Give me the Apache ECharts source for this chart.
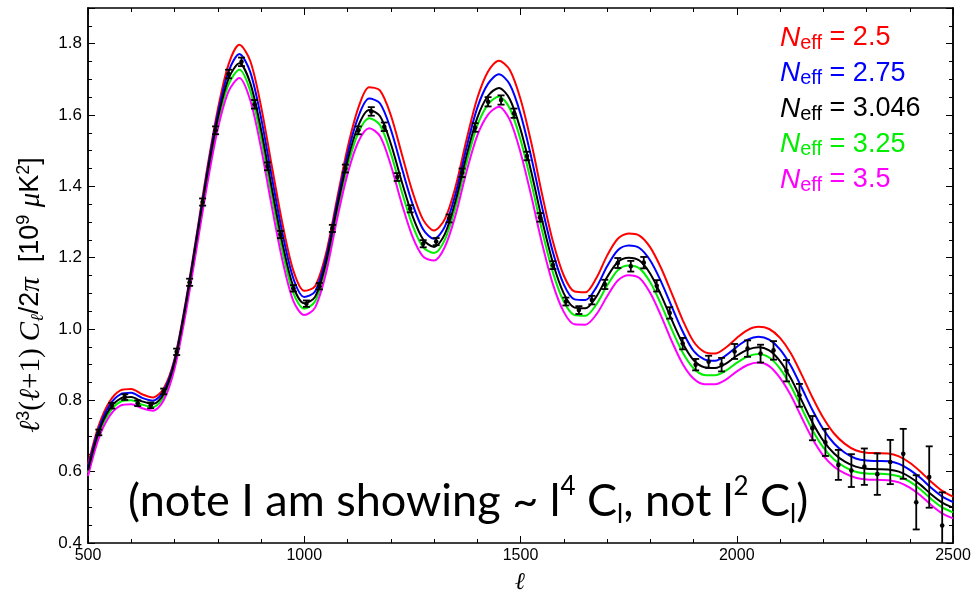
<!DOCTYPE html>
<html>
<head>
<meta charset="utf-8">
<script src="https://cdn.jsdelivr.net/npm/echarts@6/dist/echarts.min.js"></script>
<style>
  html, body { margin: 0; padding: 0; background: #fff; }
  #chart { width: 975px; height: 601px; }
</style>
</head>
<body>
<div id="chart"></div>
<script>
// multipole grid for the model curves
var curveL = [500,525,550,575,600,625,650,675,700,725,
  750,775,800,825,850,875,900,925,950,975,
  1000,1025,1050,1075,1100,1125,1150,1175,1200,1225,
  1250,1275,1300,1325,1350,1375,1400,1425,1450,1475,
  1500,1525,1550,1575,1600,1625,1650,1675,1700,1725,
  1750,1775,1800,1825,1850,1875,1900,1925,1950,1975,
  2000,2025,2050,2075,2100,2125,2150,2175,2200,2225,
  2250,2275,2300,2325,2350,2375,2400,2425,2450,2475,
  2500];

// Neff = 2.5
var red = [.620,.730,.797,.828,.832,.817,.808,.833,.916,1.070,
  1.255,1.446,1.615,1.742,1.797,1.752,1.625,1.457,1.293,1.163,
  1.107,1.120,1.210,1.360,1.507,1.620,1.678,1.669,1.600,1.493,
  1.386,1.306,1.276,1.308,1.400,1.530,1.647,1.722,1.752,1.727,
  1.645,1.522,1.377,1.245,1.150,1.105,1.103,1.142,1.205,1.253,
  1.268,1.262,1.229,1.171,1.099,1.025,.965,.936,.931,.948,
  .975,.997,1.006,1.000,.975,.932,.872,.808,.751,.707,
  .678,.660,.653,.652,.651,.643,.625,.600,.571,.546,
  .530];
// Neff = 2.75
var blue = [.612,.721,.787,.817,.821,.807,.799,.826,.911,1.065,
  1.249,1.437,1.603,1.722,1.771,1.721,1.593,1.426,1.266,1.141,
  1.090,1.105,1.198,1.348,1.490,1.595,1.646,1.633,1.560,1.454,
  1.352,1.279,1.253,1.287,1.380,1.508,1.620,1.688,1.714,1.686,
  1.603,1.481,1.341,1.215,1.125,1.083,1.081,1.116,1.175,1.221,
  1.234,1.227,1.192,1.133,1.062,.993,.939,.915,.911,.926,
  .950,.970,.978,.970,.943,.897,.836,.773,.719,.679,
  .653,.637,.631,.630,.629,.622,.605,.582,.554,.530,
  .515];
// Neff = 3.046
var black = [.604,.712,.776,.805,.809,.797,.790,.818,.906,1.060,
  1.243,1.428,1.590,1.702,1.745,1.690,1.560,1.395,1.238,1.118,
  1.072,1.090,1.185,1.335,1.472,1.570,1.614,1.597,1.520,1.415,
  1.318,1.251,1.230,1.266,1.360,1.485,1.592,1.654,1.676,1.645,
  1.560,1.440,1.305,1.185,1.100,1.060,1.058,1.090,1.145,1.188,
  1.200,1.192,1.155,1.095,1.025,.960,.913,.893,.891,.903,
  .925,.942,.949,.940,.910,.862,.800,.738,.687,.651,
  .628,.614,.608,.607,.606,.600,.585,.563,.536,.513,
  .499];
// Neff = 3.25
var green = [.597,.704,.767,.796,.800,.788,.781,.810,.898,1.050,
  1.232,1.416,1.577,1.686,1.727,1.668,1.537,1.372,1.216,1.100,
  1.057,1.077,1.172,1.321,1.455,1.550,1.591,1.572,1.493,1.387,
  1.292,1.229,1.213,1.250,1.342,1.465,1.570,1.630,1.652,1.619,
  1.531,1.409,1.275,1.158,1.077,1.039,1.037,1.068,1.121,1.165,
  1.178,1.170,1.131,1.069,.998,.934,.890,.871,.870,.883,
  .905,.923,.930,.920,.889,.840,.778,.717,.668,.634,
  .613,.600,.595,.594,.593,.587,.572,.550,.523,.500,
  .486];
// Neff = 3.5
var magenta = [.588,.694,.756,.785,.789,.778,.771,.800,.888,1.038,
  1.218,1.401,1.560,1.666,1.704,1.642,1.508,1.343,1.190,1.078,
  1.039,1.060,1.155,1.303,1.434,1.525,1.563,1.541,1.460,1.353,
  1.260,1.203,1.192,1.230,1.320,1.440,1.542,1.601,1.623,1.587,
  1.495,1.372,1.239,1.125,1.048,1.013,1.012,1.040,1.091,1.136,
  1.151,1.143,1.101,1.037,.965,.902,.861,.845,.845,.858,
  .881,.899,.906,.896,.863,.814,.752,.692,.645,.614,
  .595,.583,.578,.577,.576,.570,.555,.533,.506,.483,
  .469];

// binned data points
var dataL = [525,555,585,615,645,675,705,735,765,795,
  825,855,885,915,945,975,1005,1035,1065,1095,
  1125,1155,1185,1215,1245,1275,1305,1335,1365,1395,
  1425,1455,1485,1515,1545,1575,1605,1635,1665,1695,
  1725,1755,1785,1815,1845,1875,1905,1935,1965,1995,
  2025,2055,2085,2115,2145,2175,2205,2235,2265,2295,
  2325,2355,2385,2415,2445,2475];
var dataV = [.710,.785,.809,.792,.786,.825,.936,1.131,1.356,1.557,
  1.715,1.749,1.630,1.456,1.265,1.114,1.071,1.120,1.282,1.450,
  1.557,1.610,1.567,1.426,1.337,1.239,1.245,1.310,1.438,1.565,
  1.637,1.642,1.605,1.485,1.313,1.179,1.077,1.053,1.081,1.125,
  1.185,1.176,1.186,1.121,1.045,.959,.900,.908,.900,.937,
  .945,.931,.940,.883,.814,.722,.682,.619,.603,.614,
  .593,.627,.650,.514,.585,.449];
var dataErr = [.008,.008,.008,.008,.008,.008,.009,.010,.010,.011,
  .012,.012,.012,.011,.010,.009,.009,.009,.010,.011,
  .011,.012,.012,.011,.010,.010,.010,.011,.012,.012,
  .013,.013,.013,.012,.012,.011,.011,.011,.012,.013,
  .014,.015,.016,.016,.016,.016,.016,.017,.019,.021,
  .023,.025,.026,.030,.032,.034,.038,.042,.046,.051,
  .058,.062,.070,.076,.086,.093];

var legendLabels = ['2.5', '2.75', '3.046', '3.25', '3.5'];
var colors = ['#ff0000', '#0000ff', '#000000', '#00ee00', '#ff00ff'];

function pairs(ys) {
  var out = [];
  for (var i = 0; i < curveL.length; i++) out.push([curveL[i], ys[i]]);
  return out;
}
var points = [];
for (var i = 0; i < dataL.length; i++) points.push([dataL[i], dataV[i], dataErr[i]]);

var chart = echarts.init(document.getElementById('chart'));

var frame = { show: true, lineStyle: { color: '#000', width: 1.5 } };
var fontSans = "'Liberation Sans', Arial, Helvetica, sans-serif";
var fontSerif = "'Liberation Serif', 'DejaVu Serif', serif";

function xAx(pos, labels) {
  return {
    type: 'value', position: pos, min: 500, max: 2500, interval: 500,
    axisLine: frame,
    axisTick: { show: true, inside: true, length: 7, lineStyle: { color: '#000', width: 1 } },
    minorTick: { show: true, splitNumber: 5, length: 4, lineStyle: { color: '#000', width: 1 } },
    axisLabel: {
      show: labels, color: '#000', fontSize: 16, fontFamily: fontSans, margin: 5,
      formatter: function (v) { return String(v); }
    },
    splitLine: { show: false }, minorSplitLine: { show: false }
  };
}
function yAx(pos, step, len, labels) {
  return {
    type: 'value', position: pos, min: 0.4, max: 1.9, interval: step, offset: 0,
    axisLine: frame,
    axisTick: { show: true, inside: true, length: len, lineStyle: { color: '#000', width: 1 } },
    axisLabel: {
      show: labels, color: '#000', fontSize: 17, fontFamily: fontSans, margin: 6,
      formatter: function (v) {
        var k = v * 5;
        return Math.abs(k - Math.round(k)) < 1e-6 ? v.toFixed(1) : '';
      }
    },
    splitLine: { show: false }
  };
}

function legendItem(k) {
  return {
    type: 'text', left: 780, top: 24 + k * 35.5,
    style: {
      text: '{n|N}{s|eff}{v| = ' + legendLabels[k] + '}',
      rich: {
        n: { fontFamily: fontSans, fontStyle: 'italic', fontSize: 28, lineHeight: 30, fill: colors[k] },
        s: { fontFamily: fontSans, fontSize: 20, lineHeight: 20, verticalAlign: 'bottom', fill: colors[k] },
        v: { fontFamily: fontSans, fontSize: 27, lineHeight: 30, fill: colors[k] }
      }
    },
    z: 10
  };
}

var lineSeries = [];
var curves = [red, blue, green, magenta, black];
var curveColors = ['#ff0000', '#0000ff', '#00ee00', '#ff00ff', '#000000'];
var curveNames = ['2.5', '2.75', '3.25', '3.5', '3.046'];
for (var c = 0; c < curves.length; c++) {
  lineSeries.push({
    name: 'Neff = ' + curveNames[c], type: 'line', data: pairs(curves[c]),
    showSymbol: false, smooth: 0.3, clip: true,
    lineStyle: { color: curveColors[c], width: 2 }
  });
}
lineSeries.push({
  name: 'data', type: 'custom', data: points, clip: true, z: 5,
  renderItem: function (params, api) {
    var x = api.value(0), y = api.value(1), e = api.value(2);
    var top = api.coord([x, y + e]);
    var bot = api.coord([x, y - e]);
    var mid = api.coord([x, y]);
    var cap = 3.5;
    var st = { stroke: '#000', lineWidth: 1.8 };
    return {
      type: 'group', children: [
        { type: 'line', shape: { x1: top[0], y1: top[1], x2: bot[0], y2: bot[1] }, style: st },
        { type: 'line', shape: { x1: top[0] - cap, y1: top[1], x2: top[0] + cap, y2: top[1] }, style: st },
        { type: 'line', shape: { x1: bot[0] - cap, y1: bot[1], x2: bot[0] + cap, y2: bot[1] }, style: st },
        { type: 'circle', shape: { cx: mid[0], cy: mid[1], r: 2.3 }, style: { fill: '#000' } }
      ]
    };
  }
});

var option = {
  animation: false,
  backgroundColor: '#fff',
  grid: { left: 88, right: 22, top: 8, bottom: 58, containLabel: false },
  xAxis: [xAx('bottom', true), xAx('top', false)],
  yAxis: [yAx('left', 0.2, 7, true), yAx('left', 0.05, 4, false),
          yAx('right', 0.2, 7, false), yAx('right', 0.05, 4, false)],
  series: lineSeries,
  graphic: [
    {
      type: 'text', x: 31, y: 295, rotation: Math.PI / 2,
      style: {
        text: '{i|ℓ}{sup|3}{r|(}{i|ℓ}{r|+1) }{i|C}{sub|ℓ}{s|/2}{i|π}{s|  [10}{sup|9}{s| }{i|μ}{s|K}{sup|2}{s|]}',
        align: 'center', verticalAlign: 'middle',
        textAlign: 'center', textVerticalAlign: 'middle',
        rich: {
          i: { fontFamily: fontSerif, fontStyle: 'italic', fontSize: 29, lineHeight: 32, fill: '#000' },
          r: { fontFamily: fontSerif, fontSize: 29, lineHeight: 32, fill: '#000' },
          s: { fontFamily: fontSans, fontSize: 27, lineHeight: 32, fill: '#000' },
          sup: { fontFamily: fontSans, fontSize: 18, lineHeight: 18, verticalAlign: 'top', fill: '#000' },
          sub: { fontFamily: fontSerif, fontStyle: 'italic', fontSize: 18, lineHeight: 18, verticalAlign: 'bottom', fill: '#000' }
        }
      }
    },
    {
      type: 'text', x: 520, y: 583,
      style: {
        text: 'ℓ', fontFamily: fontSerif, fontStyle: 'italic', fontSize: 24, fill: '#000',
        align: 'center', verticalAlign: 'middle', textAlign: 'center', textVerticalAlign: 'middle'
      }
    },
    {
      type: 'text', left: 128, top: 474,
      style: {
        text: '{t|(note I am showing ~ l}{sup|4}{t| C}{sub|l}{t|, not l}{sup|2}{t| C}{sub|l}{t|)}',
        rich: {
          t: { fontFamily: "Lato, 'Open Sans', sans-serif", fontSize: 45, lineHeight: 54, fill: '#000' },
          sup: { fontFamily: "Lato, 'Open Sans', sans-serif", fontSize: 26, lineHeight: 26, verticalAlign: 'top', fill: '#000' },
          sub: { fontFamily: "Lato, 'Open Sans', sans-serif", fontSize: 26, lineHeight: 26, verticalAlign: 'bottom', fill: '#000' }
        }
      },
      z: 10
    },
    legendItem(0), legendItem(1), legendItem(2), legendItem(3), legendItem(4)
  ]
};
chart.setOption(option);
window.onresize = function () { chart.resize(); };
</script>
</body>
</html>
